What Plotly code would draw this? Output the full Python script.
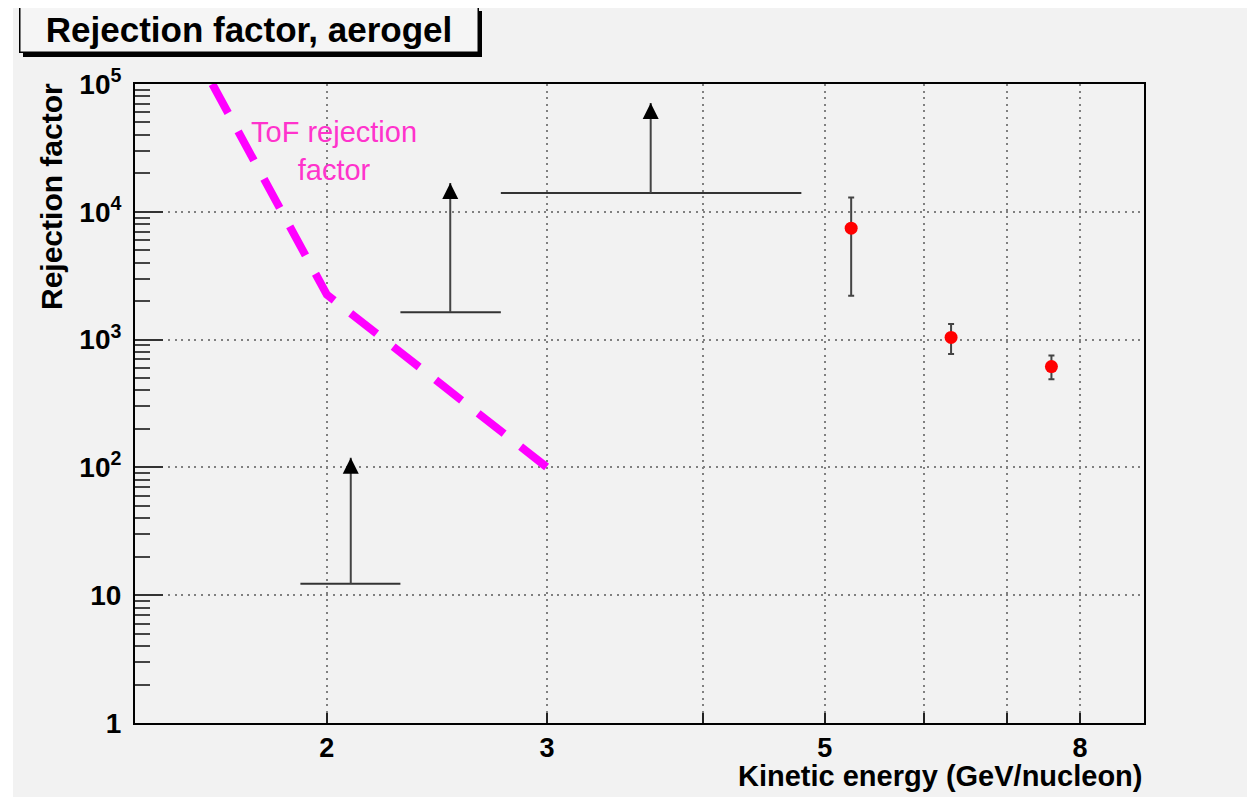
import math
import plotly.graph_objects as go

# ---------------- data ----------------
# ToF rejection factor curve (magenta dashed)
tof_energy = [1.62, 2.0, 3.0]
tof_rejection = [1.0e5, 2250, 100]

# Aerogel lower limits (bins with arrows)
limit_energy = [2.09, 2.51, 3.63]
limit_energy_lo = [1.905, 2.29, 2.755]
limit_energy_hi = [2.29, 2.755, 4.79]
limit_value = [12.3, 1640, 14000]
limit_arrow_tip = [119, 16800, 71000]

# Aerogel measured points
meas_energy = [5.25, 6.31, 7.59]
meas_value = [7450, 1040, 615]
meas_err_hi = [5500, 284, 135]
meas_err_lo = [5250, 269, 125]

x_tick_vals = [2, 3, 4, 5, 6, 7, 8]
x_tick_text = ["2", "3", "", "5", "", "", "8"]
y_tick_vals = [1, 10, 100, 1000, 10000, 100000]
y_tick_text = ["1", "10", "10<sup>2</sup>", "10<sup>3</sup>", "10<sup>4</sup>", "10<sup>5</sup>"]
y_minor_vals = [m * 10 ** d for d in range(5) for m in range(2, 10)]

x_min, x_max = 1.405, 9.0
y_min, y_max = 1, 1e5

title_text = "Rejection factor, aerogel"
x_title = "Kinetic energy (GeV/nucleon)"
y_title = "Rejection factor"
tof_label = "ToF rejection<br>factor"

# ---------------- figure ----------------
FONT = "Liberation Sans, Arial, Helvetica, sans-serif"
BG = "#f2f2f2"
OFF = 8                      # page body margin of the html page
W, H = 1255 - OFF, 799 - OFF
# plot frame in window pixels: x 135..1144, y 84..723
ML = 135 - OFF
MT = 84 - OFF
MR = W - (1144 - OFF)
MB = H - (723 - OFF)
PW, PH = W - ML - MR, H - MT - MB


def px_x(p):
    """window pixel x -> paper fraction"""
    return (p - OFF - ML) / PW


def px_y(p):
    """window pixel y -> paper fraction"""
    return (H - MB - (p - OFF)) / PH


fig = go.Figure()

# ToF curve
fig.add_trace(go.Scatter(
    x=tof_energy, y=tof_rejection, mode="lines",
    line=dict(color="#ff00ff", width=8, dash="33px,21px"),
    hoverinfo="skip", showlegend=False))

# horizontal bin bars of limits
hx, hy = [], []
for lo, hi, v in zip(limit_energy_lo, limit_energy_hi, limit_value):
    hx += [lo, hi, None]
    hy += [v, v, None]
fig.add_trace(go.Scatter(x=hx, y=hy, mode="lines",
                         line=dict(color="#333333", width=2),
                         hoverinfo="skip", showlegend=False))

# vertical arrow shafts
vx, vy = [], []
for c, v, t in zip(limit_energy, limit_value, limit_arrow_tip):
    vx += [c, c, None]
    vy += [v, t, None]
fig.add_trace(go.Scatter(x=vx, y=vy, mode="lines",
                         line=dict(color="#444444", width=2),
                         hoverinfo="skip", showlegend=False))

# arrow heads
fig.add_trace(go.Scatter(x=limit_energy, y=limit_arrow_tip, mode="markers",
                         marker=dict(symbol="arrow-up", size=16, color="black",
                                     line=dict(width=0)),
                         hoverinfo="skip", showlegend=False))

# measured points
fig.add_trace(go.Scatter(
    x=meas_energy, y=meas_value, mode="markers",
    marker=dict(symbol="circle", size=13, color="#ff0000", line=dict(width=0)),
    error_y=dict(type="data", symmetric=False, array=meas_err_hi,
                 arrayminus=meas_err_lo, color="#444444", thickness=2, width=3),
    showlegend=False))

grid = dict(showgrid=True, gridcolor="#808080", gridwidth=1.5, griddash="2px,4.6px")

fig.update_xaxes(
    type="log", range=[math.log10(x_min), math.log10(x_max)],
    tickmode="array", tickvals=x_tick_vals,
    ticktext=["<b>%s</b>" % t if t else "" for t in x_tick_text],
    ticks="inside", ticklen=10, tickwidth=1.5, tickcolor="#222222",
    tickfont=dict(family=FONT, size=27, color="black"), ticklabelstandoff=0,
    showline=True, linecolor="black", linewidth=2, mirror=True,
    zeroline=False, **grid)

fig.update_yaxes(
    type="log", range=[math.log10(y_min), math.log10(y_max)],
    tickmode="array", tickvals=y_tick_vals,
    ticktext=["<b>%s</b>" % t for t in y_tick_text],
    ticks="inside", ticklen=28, tickwidth=2, tickcolor="#333333",
    tickfont=dict(family=FONT, size=28, color="black"), ticklabelstandoff=6,
    minor=dict(tickmode="array", tickvals=y_minor_vals, ticks="inside",
               ticklen=15, tickwidth=2, tickcolor="#444444", showgrid=False),
    showline=True, linecolor="black", linewidth=2, mirror=True,
    zeroline=False, **grid)

shapes = [
    # white strip left of the grey canvas and at the bottom
    dict(type="rect", xref="paper", yref="paper", layer="below",
         x0=px_x(OFF), x1=px_x(13), y0=px_y(OFF), y1=px_y(799),
         fillcolor="white", line=dict(width=0)),
    dict(type="rect", xref="paper", yref="paper", layer="below",
         x0=px_x(OFF), x1=px_x(1255), y0=px_y(797), y1=px_y(799),
         fillcolor="white", line=dict(width=0)),
    # title box shadow
    dict(type="rect", xref="paper", yref="paper", layer="below",
         x0=px_x(23), x1=px_x(482), y0=px_y(57), y1=px_y(11),
         fillcolor="black", line=dict(width=0)),
]

annotations = [
    dict(text="<b>%s</b>" % title_text, xref="paper", yref="paper",
         x=px_x(248.5), y=px_y(30), xanchor="center", yanchor="middle",
         showarrow=False, width=455, height=42, borderpad=1,
         bgcolor="#f5f5f5", bordercolor="black", borderwidth=1.5,
         font=dict(family=FONT, size=35, color="black")),
    dict(text="<b>%s</b>" % y_title, xref="paper", yref="paper",
         x=px_x(51), y=px_y(197), xanchor="center", yanchor="middle",
         textangle=-90, showarrow=False,
         font=dict(family=FONT, size=30, color="black")),
    dict(text="<b>%s</b>" % x_title, xref="paper", yref="paper",
         x=px_x(1144), y=px_y(776), xanchor="right", yanchor="middle",
         showarrow=False,
         font=dict(family=FONT, size=29, color="black")),
    dict(text=tof_label, xref="paper", yref="paper",
         x=px_x(334), y=px_y(151), xanchor="center", yanchor="middle",
         showarrow=False, align="center",
         font=dict(family=FONT, size=29, color="#ff33cc")),
]

fig.update_layout(
    width=W, height=H,
    margin=dict(l=ML, r=MR, t=MT, b=MB, pad=0),
    paper_bgcolor=BG, plot_bgcolor=BG,
    showlegend=False,
    shapes=shapes, annotations=annotations,
    font=dict(family=FONT, color="black"),
)

fig.write_html("out.html")
